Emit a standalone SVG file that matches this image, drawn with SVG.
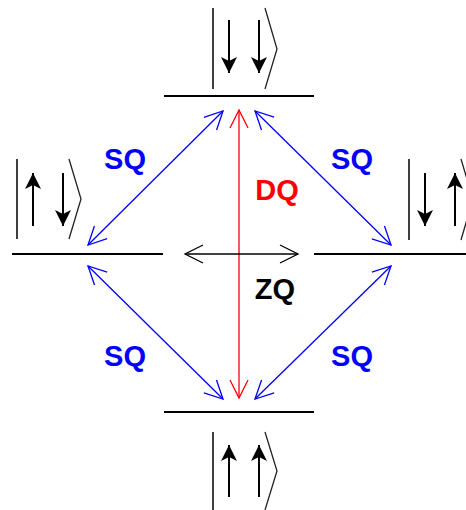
<svg xmlns="http://www.w3.org/2000/svg" width="466" height="510" viewBox="0 0 466 510">
<style>
.lvl{stroke:#000;stroke-width:2;fill:none}
.bar{stroke:#000;stroke-width:1.5;fill:none}
.br{stroke:#222;stroke-width:1.3;fill:none}
.sp{stroke:#000;stroke-width:2;fill:none}
.sq{stroke:#0000ff;stroke-width:1.3;fill:none}
.dq{stroke:#ff0000;stroke-width:1.3;fill:none}
.zq{stroke:#000;stroke-width:1.3;fill:none}
text{font-family:"Liberation Sans",Arial,sans-serif;font-weight:bold;font-size:29px;text-anchor:middle}
</style>
<defs>
<marker id="ab" viewBox="0 0 18 18" refX="18" refY="9" markerWidth="18" markerHeight="18" markerUnits="userSpaceOnUse" orient="auto-start-reverse" overflow="visible"><path d="M0,0 L18,9 L0,18" fill="none" stroke="#0000ff" stroke-width="1.3"/></marker>
<marker id="ar" viewBox="0 0 18 18" refX="18" refY="9" markerWidth="18" markerHeight="18" markerUnits="userSpaceOnUse" orient="auto-start-reverse" overflow="visible"><path d="M0,0 L18,9 L0,18" fill="none" stroke="#ff0000" stroke-width="1.3"/></marker>
<marker id="ak" viewBox="0 0 18 18" refX="18" refY="9" markerWidth="18" markerHeight="18" markerUnits="userSpaceOnUse" orient="auto-start-reverse" overflow="visible"><path d="M0,0 L18,9 L0,18" fill="none" stroke="#000" stroke-width="1.3"/></marker>
<marker id="sh" viewBox="0 0 16 16" refX="16" refY="8" markerWidth="16" markerHeight="16" markerUnits="userSpaceOnUse" orient="auto"><path d="M0,0 L16,8 L0,16 L4,8 Z" fill="#000"/></marker>
</defs>
<g id="top">
<line class="lvl" x1="164" y1="96" x2="314" y2="96"/>
<line class="bar" x1="213" y1="8" x2="213" y2="89"/>
<line class="sp" x1="229" y1="20" x2="229" y2="73" marker-end="url(#sh)"/>
<line class="sp" x1="259" y1="20" x2="259" y2="73" marker-end="url(#sh)"/>
<polyline class="br" points="265,8 277,49 265,89"/>
</g>
<g id="left">
<line class="lvl" x1="12" y1="254" x2="163" y2="254"/>
<line class="bar" x1="17" y1="159" x2="17" y2="239"/>
<line class="sp" x1="33" y1="226" x2="33" y2="173" marker-end="url(#sh)"/>
<line class="sp" x1="63" y1="173" x2="63" y2="226" marker-end="url(#sh)"/>
<polyline class="br" points="69,159 81,199 69,239"/>
</g>
<g id="right">
<line class="lvl" x1="314" y1="254" x2="466" y2="254"/>
<line class="bar" x1="409" y1="159" x2="409" y2="240"/>
<line class="sp" x1="425" y1="173" x2="425" y2="226" marker-end="url(#sh)"/>
<line class="sp" x1="455" y1="226" x2="455" y2="173" marker-end="url(#sh)"/>
<polyline class="br" points="461,159 473,199 461,240"/>
</g>
<g id="bottom">
<line class="lvl" x1="164" y1="412" x2="314" y2="412"/>
<line class="bar" x1="213" y1="432" x2="213" y2="512"/>
<line class="sp" x1="229" y1="497" x2="229" y2="445" marker-end="url(#sh)"/>
<line class="sp" x1="259" y1="497" x2="259" y2="445" marker-end="url(#sh)"/>
<polyline class="br" points="265,432 277,471 265,510"/>
</g>
<g id="connectors">
<line class="sq" x1="223" y1="111" x2="88" y2="245" marker-start="url(#ab)" marker-end="url(#ab)"/>
<line class="sq" x1="255" y1="111" x2="391" y2="245" marker-start="url(#ab)" marker-end="url(#ab)"/>
<line class="sq" x1="88" y1="266" x2="223" y2="399" marker-start="url(#ab)" marker-end="url(#ab)"/>
<line class="sq" x1="391" y1="266" x2="255" y2="399" marker-start="url(#ab)" marker-end="url(#ab)"/>
<line class="dq" x1="239" y1="110" x2="239" y2="398" marker-start="url(#ar)" marker-end="url(#ar)"/>
<line class="zq" x1="185" y1="254" x2="298" y2="254" marker-start="url(#ak)" marker-end="url(#ak)"/>
</g>
<g id="labels">
<text x="125" y="169" fill="#0000ff">SQ</text>
<text x="352" y="169" fill="#0000ff">SQ</text>
<text x="277" y="200" fill="#ff0000">DQ</text>
<text x="275" y="299" fill="#000">ZQ</text>
<text x="125" y="366" fill="#0000ff">SQ</text>
<text x="352" y="366" fill="#0000ff">SQ</text>
</g>
</svg>
